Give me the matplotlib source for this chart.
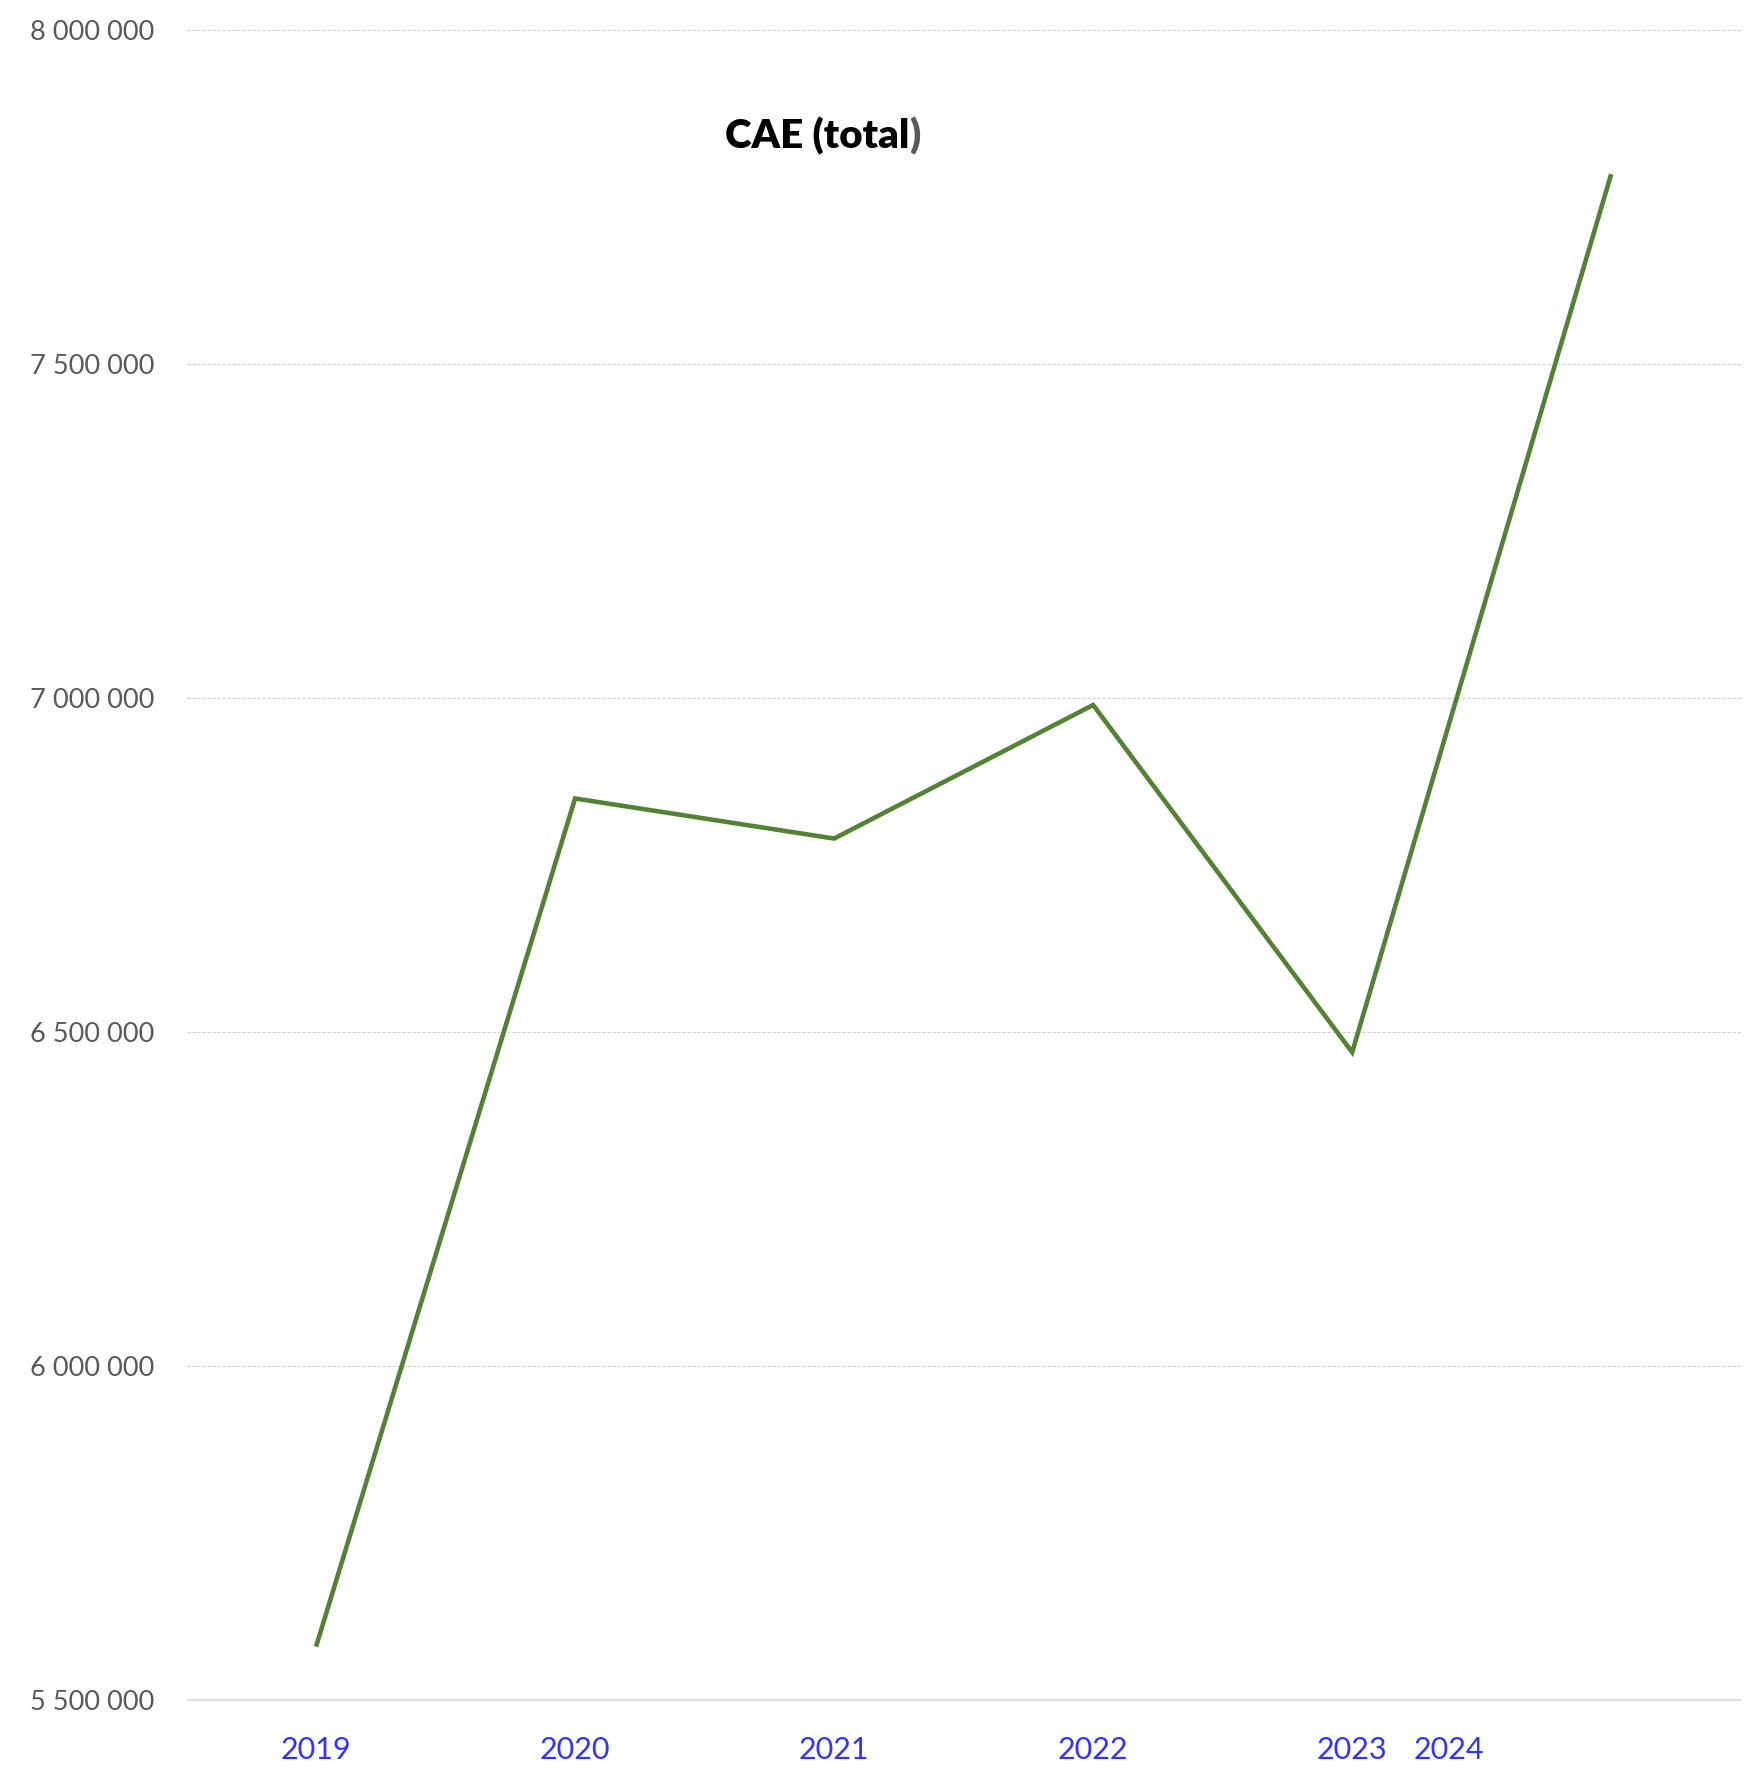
import matplotlib
matplotlib.use("Agg")
import matplotlib.pyplot as plt
from matplotlib.ticker import FuncFormatter

categories = ["2019", "2020", "2021", "2022", "2023", ""]
values = [5580000, 6850000, 6790000, 6990000, 6470000, 7785000]
xtick_labels = ["2019", "2020", "2021", "2022", "2023", "2024"]
xtick_pos = [0, 1, 2, 3, 4, 4.375]
yticks = [5500000, 6000000, 6500000, 7000000, 7500000, 8000000]

plt.rcParams['font.family'] = ['Lato', 'DejaVu Sans']

fig = plt.figure(figsize=(17.53, 17.72), dpi=100)
ax = fig.add_axes([0.1064, 0.0406, 0.8866, 0.9422])

x = list(range(len(values)))
ax.plot(x, values, color="#548235", linewidth=3.3, solid_capstyle="butt", solid_joinstyle="miter")

ax.set_xlim(-0.5, len(values) - 0.5)
ax.set_ylim(5500000, 8000000)
ax.set_yticks(yticks)
ax.yaxis.set_major_formatter(FuncFormatter(lambda v, p: f"{int(v):,}".replace(",", " ")))
ax.set_xticks(xtick_pos)
ax.set_xticklabels(xtick_labels)

ax.grid(axis="y", color="#D0D0D0", linestyle=(0, (3, 1.5)), linewidth=0.8)
ax.set_axisbelow(True)
for s in ["top", "right", "left"]:
    ax.spines[s].set_visible(False)
ax.spines["bottom"].set_color("#D9D9D9")
ax.spines["bottom"].set_linewidth(1.2)
ax.tick_params(axis="y", length=0, labelsize=19.5, labelcolor="#595959", pad=23)
ax.tick_params(axis="x", length=0, labelsize=22, labelcolor="#3333FF", pad=26)

fig.canvas.draw()
renderer = fig.canvas.get_renderer()
ty = 0.9234
t1 = fig.text(0.4694, ty, "CAE (total", fontsize=29, fontweight="heavy", color="black", ha="center", va="center")
t2 = fig.text(0, ty, ")", fontsize=29, fontweight="heavy", color="#595959", ha="left", va="center")
bb1 = t1.get_window_extent(renderer)
bb2 = t2.get_window_extent(renderer)
total = bb1.width + bb2.width
cx = 0.4694 * fig.bbox.width
left = cx - total / 2
t1.set_ha("left")
t1.set_x(left / fig.bbox.width)
t2.set_x((left + bb1.width) / fig.bbox.width)

fig.savefig("out.png", dpi=100, facecolor="white")
